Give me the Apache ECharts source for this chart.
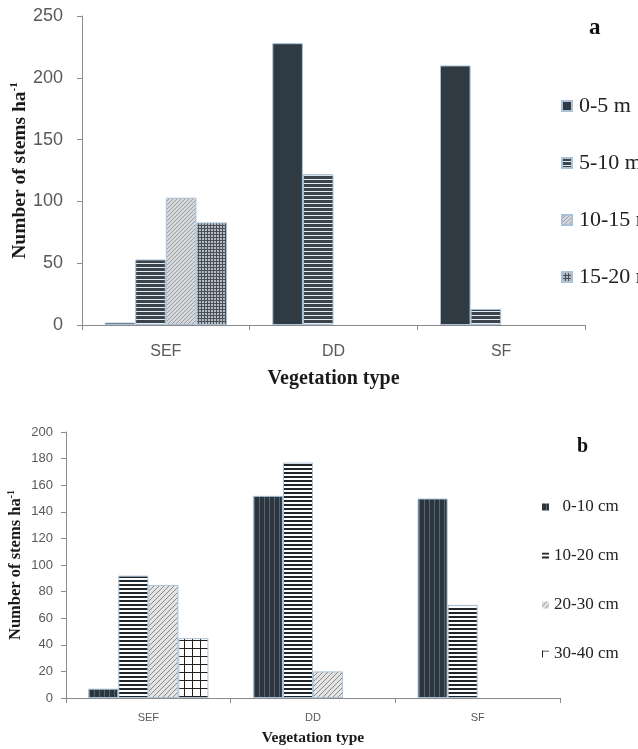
<!DOCTYPE html>
<html>
<head>
<meta charset="utf-8">
<script src="https://cdn.jsdelivr.net/npm/echarts@6/dist/echarts.min.js"></script>
<style>html,body{margin:0;padding:0;background:#fff}#c{width:638px;height:749px}</style>
</head>
<body>
<div id="c"></div>
<script>
// ---- data ----
const categories = ['SEF', 'DD', 'SF'];
const heightClasses = ['0-5 m', '5-10 m', '10-15 m', '15-20 m'];
const h0_5 = [2, 228, 210];
const h5_10 = [53, 122, 13];
const h10_15 = [103, null, null];
const h15_20 = [83, null, null];
const diamClasses = ['0-10 cm', '10-20 cm', '20-30 cm', '30-40 cm'];
const d0_10 = [7, 152, 150];
const d10_20 = [92, 177, 70];
const d20_30 = [85, 20, null];
const d30_40 = [45, null, null];
const ticksA = [0, 50, 100, 150, 200, 250];
const ticksB = [0, 20, 40, 60, 80, 100, 120, 140, 160, 180, 200];

// ---- pattern textures ----
function tile(w, h, draw) {
  const c = document.createElement('canvas');
  c.width = w; c.height = h;
  const g = c.getContext('2d');
  draw(g, w, h);
  return { image: c, repeat: 'repeat' };
}
const patA = [
  '#2f3a43',
  tile(4, 4, (g) => { g.fillStyle = '#3b444d'; g.fillRect(0, 0, 4, 3); g.fillStyle = '#e4eaee'; g.fillRect(0, 3, 4, 1); }),
  tile(4, 4, (g) => { g.fillStyle = '#d6d7db'; g.fillRect(0, 0, 4, 4); g.fillStyle = '#9ca0a6'; for (let i = 0; i < 4; i++) g.fillRect(i, 3 - i, 1, 1); }),
  tile(3, 3, (g) => { g.fillStyle = '#b8bcc0'; g.fillRect(0, 0, 3, 3); g.fillStyle = '#46505a'; g.fillRect(0, 0, 3, 1); g.fillRect(0, 0, 1, 3); })
];
const patB = [
  tile(5, 4, (g) => { g.fillStyle = '#2b353e'; g.fillRect(0, 0, 5, 4); g.fillStyle = '#5a646e'; g.fillRect(4, 0, 1, 4); }),
  tile(4, 4, (g) => { g.fillStyle = '#1f262c'; g.fillRect(0, 0, 4, 2); g.fillStyle = '#ffffff'; g.fillRect(0, 2, 4, 2); }),
  tile(5, 5, (g) => { g.fillStyle = '#e4e4e4'; g.fillRect(0, 0, 5, 5); g.fillStyle = '#8a8a8a'; for (let i = 0; i < 5; i++) g.fillRect(i, 4 - i, 1, 1); }),
  tile(8, 8, (g) => { g.fillStyle = '#ffffff'; g.fillRect(0, 0, 8, 8); g.fillStyle = '#222222'; g.fillRect(0, 0, 8, 1); g.fillRect(0, 0, 1, 8); })
];

const serif = 'Liberation Serif';
const sans = 'Liberation Sans';
const axisGray = '#8a8a8a';

function bar(name, data, color, axisIdx) {
  return {
    name, type: 'bar', data,
    xAxisIndex: axisIdx, yAxisIndex: axisIdx,
    barGap: '0%', barCategoryGap: '27%',
    itemStyle: { color, borderColor: '#a9c2d8', borderWidth: 1 },
    emphasis: { disabled: true }
  };
}

const chart = echarts.init(document.getElementById('c'), null, { renderer: 'canvas' });
chart.setOption({
  animation: false,
  backgroundColor: '#ffffff',
  title: [
    { text: 'a', left: 584, top: 12, textStyle: { fontFamily: serif, fontWeight: 'bold', fontSize: 23, color: '#111' } },
    { text: 'b', left: 572, top: 432, textStyle: { fontFamily: serif, fontWeight: 'bold', fontSize: 20, color: '#111' } }
  ],
  legend: [
    {
      data: heightClasses, orient: 'vertical', left: 556, top: 89,
      itemWidth: 10, itemHeight: 10, itemGap: 33, icon: 'rect',
      textStyle: { fontFamily: serif, fontSize: 22, color: '#222', lineHeight: 24, padding: [0, 0, 0, 2] },
      selectedMode: false
    },
    {
      data: diamClasses, orient: 'vertical', left: 537, top: 492,
      itemWidth: 7, itemHeight: 7, itemGap: 29, icon: 'rect', itemStyle: { borderWidth: 0 },
      formatter: (n) => n === '0-10 cm' ? '  ' + n : n,
      textStyle: { fontFamily: serif, fontSize: 17, color: '#222', lineHeight: 20 },
      selectedMode: false
    }
  ],
  grid: [
    { left: 82, top: 16, width: 503, height: 309, outerBoundsMode: 'none', containLabel: false },
    { left: 66, top: 432, width: 494, height: 266, outerBoundsMode: 'none', containLabel: false }
  ],
  xAxis: [
    {
      type: 'category', gridIndex: 0, data: categories,
      axisLine: { lineStyle: { color: axisGray } },
      axisTick: { show: true, length: 5, lineStyle: { color: axisGray } },
      axisLabel: { fontFamily: sans, fontSize: 16, color: '#595959', margin: 19 },
      name: 'Vegetation type', nameLocation: 'middle', nameGap: 44, nameMoveOverlap: false,
      nameTextStyle: { fontFamily: serif, fontWeight: 'bold', fontSize: 20, color: '#1a1a1a' }
    },
    {
      type: 'category', gridIndex: 1, data: categories,
      axisLine: { lineStyle: { color: axisGray } },
      axisTick: { show: true, length: 5, lineStyle: { color: axisGray } },
      axisLabel: { fontFamily: sans, fontSize: 11, color: '#595959', margin: 14 },
      name: 'Vegetation type', nameLocation: 'middle', nameGap: 32, nameMoveOverlap: false,
      nameTextStyle: { fontFamily: serif, fontWeight: 'bold', fontSize: 15.5, color: '#1a1a1a' }
    }
  ],
  yAxis: [
    {
      type: 'value', gridIndex: 0, min: ticksA[0], max: ticksA[ticksA.length - 1], interval: ticksA[1] - ticksA[0],
      axisLine: { show: true, lineStyle: { color: axisGray } },
      axisTick: { show: true, length: 5, lineStyle: { color: axisGray } },
      splitLine: { show: false },
      axisLabel: { fontFamily: sans, fontSize: 18, color: '#595959', margin: 19 },
      name: 'Number of stems ha{sup|-1}', nameLocation: 'middle', nameGap: 51, nameMoveOverlap: false,
      nameTextStyle: {
        fontFamily: serif, fontWeight: 'bold', fontSize: 19.5, color: '#1a1a1a', lineHeight: 22,
        rich: { sup: { fontFamily: serif, fontWeight: 'bold', fontSize: 11, verticalAlign: 'top', lineHeight: 22, color: '#1a1a1a' } }
      }
    },
    {
      type: 'value', gridIndex: 1, min: ticksB[0], max: ticksB[ticksB.length - 1], interval: ticksB[1] - ticksB[0],
      axisLine: { show: true, lineStyle: { color: axisGray } },
      axisTick: { show: true, length: 5, lineStyle: { color: axisGray } },
      splitLine: { show: false },
      axisLabel: { fontFamily: sans, fontSize: 13, color: '#595959', margin: 13 },
      name: 'Number of stems ha{sup|-1}', nameLocation: 'middle', nameGap: 41, nameMoveOverlap: false,
      nameTextStyle: {
        fontFamily: serif, fontWeight: 'bold', fontSize: 16.5, color: '#1a1a1a', lineHeight: 19,
        rich: { sup: { fontFamily: serif, fontWeight: 'bold', fontSize: 10, verticalAlign: 'top', lineHeight: 19, color: '#1a1a1a' } }
      }
    }
  ],
  series: [
    bar(heightClasses[0], h0_5, patA[0], 0),
    bar(heightClasses[1], h5_10, patA[1], 0),
    bar(heightClasses[2], h10_15, patA[2], 0),
    bar(heightClasses[3], h15_20, patA[3], 0),
    bar(diamClasses[0], d0_10, patB[0], 1),
    bar(diamClasses[1], d10_20, patB[1], 1),
    bar(diamClasses[2], d20_30, patB[2], 1),
    bar(diamClasses[3], d30_40, patB[3], 1)
  ]
});
</script>
</body>
</html>
